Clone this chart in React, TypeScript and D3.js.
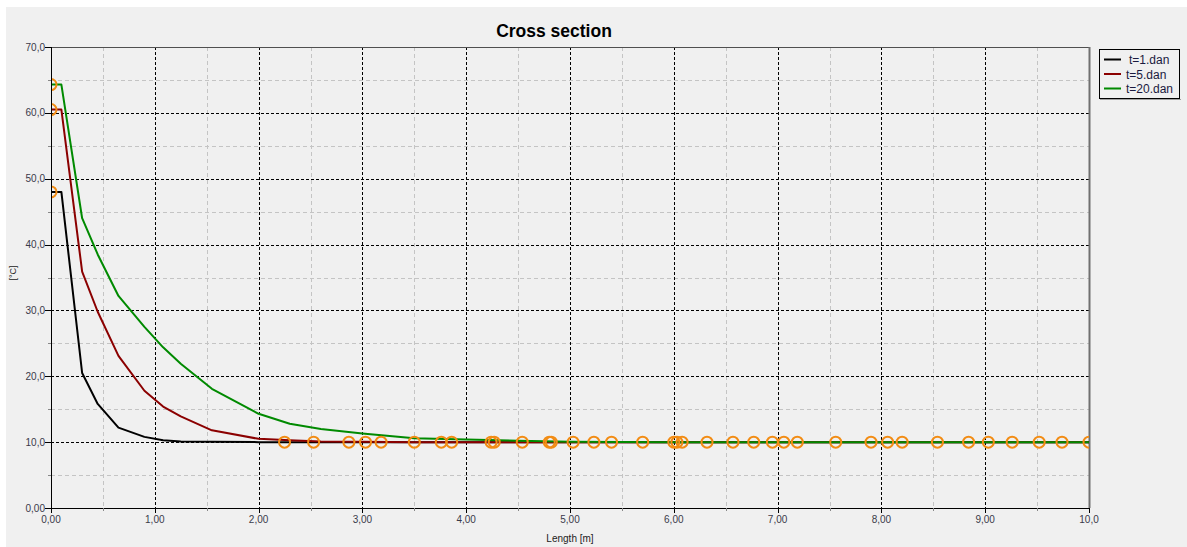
import * as d3 from "d3";

// distances along the section [m]
const depth = [0, 0.1, 0.3, 0.45, 0.65, 0.9, 1.08, 1.25, 1.55, 2.0, 2.3, 2.6, 3.0, 3.5, 4.0, 4.5, 5.0, 6.0, 7.0, 8.0, 9.0, 10.0];

const t1 = [48.0, 48.0, 20.5, 15.8, 12.2, 10.8, 10.3, 10.1, 10.05, 10.0, 10.0, 10.0, 10.0, 10.0, 10.0, 10.0, 10.0, 10.0, 10.0, 10.0, 10.0, 10.0];
const t5 = [60.5, 60.5, 35.9, 29.8, 23.1, 17.8, 15.4, 13.9, 11.8, 10.5, 10.3, 10.1, 10.05, 10.0, 10.0, 10.0, 10.0, 10.0, 10.0, 10.0, 10.0, 10.0];
const t20 = [64.3, 64.3, 44.0, 38.5, 32.2, 27.5, 24.4, 21.9, 18.1, 14.3, 12.8, 12.0, 11.3, 10.6, 10.4, 10.2, 10.05, 10.0, 10.0, 10.0, 10.0, 10.0];

const seriesNames = ["t=1.dan", "t=5.dan", "t=20.dan"];
const seriesColors = ["#000000", "#8b0000", "#008a00"];

// orange markers lying on the 10 °C line
const markerX = [2.25, 2.53, 2.87, 3.03, 3.18, 3.5, 3.76, 3.86, 4.24, 4.27, 4.54, 4.8, 4.82, 5.03, 5.23, 5.4, 5.7, 6.0, 6.03, 6.08, 6.32, 6.57, 6.77, 6.95, 7.06, 7.19, 7.56, 7.9, 8.06, 8.2, 8.54, 8.84, 9.03, 9.26, 9.52, 9.74, 10.0];
const markerT = 10.0;

const xTicks = [0, 1, 2, 3, 4, 5, 6, 7, 8, 9, 10];
const xTickLabels = ["0,00", "1,00", "2,00", "3,00", "4,00", "5,00", "6,00", "7,00", "8,00", "9,00", "10,0"];
const yTicks = [0, 10, 20, 30, 40, 50, 60, 70];
const yTickLabels = ["0,00", "10,0", "20,0", "30,0", "40,0", "50,0", "60,0", "70,0"];
const xMinor = [0.5, 1.5, 2.5, 3.5, 4.5, 5.5, 6.5, 7.5, 8.5, 9.5];
const yMinor = [5, 15, 25, 35, 45, 55, 65];

const W = 1187;
const H = 547;
const plot = { left: 51, top: 47, right: 1089, bottom: 508 };
const font = "'Liberation Sans', Arial, sans-serif";

export default function App() {
  const x = d3.scaleLinear().domain([0, 10]).range([plot.left, plot.right]);
  const y = d3.scaleLinear().domain([0, 70]).range([plot.bottom, plot.top]);
  const series = [t1, t5, t20];
  const line = d3
    .line<number>()
    .x((_, i) => x(depth[i]))
    .y((d) => y(d));

  return (
    <svg width={W} height={H} style={{ position: "fixed", left: 0, top: 0 }}>
      <rect x={0} y={0} width={W} height={H} fill="#ffffff" />
      <rect x={6} y={7} width={W - 6} height={H - 7} fill="#f0f0f0" />
      <defs>
        <clipPath id="plot-clip">
          <rect x={plot.left} y={plot.top} width={plot.right - plot.left} height={plot.bottom - plot.top} />
        </clipPath>
      </defs>

      <text x={554} y={37} textAnchor="middle" fontFamily={font} fontWeight="bold" fontSize={17.5} fill="#000">
        Cross section
      </text>

      {/* minor grid */}
      <g stroke="#c4c4c4" strokeWidth={1} strokeDasharray="4,3">
        {xMinor.map((v) => (
          <line key={"xm" + v} x1={Math.round(x(v)) + 0.5} x2={Math.round(x(v)) + 0.5} y1={plot.top} y2={plot.bottom} />
        ))}
        {yMinor.map((v) => (
          <line key={"ym" + v} x1={plot.left} x2={plot.right} y1={Math.round(y(v)) + 0.5} y2={Math.round(y(v)) + 0.5} />
        ))}
      </g>
      {/* major grid */}
      <g stroke="#000" strokeWidth={1} strokeDasharray="3,2">
        {xTicks.slice(1, -1).map((v) => (
          <line key={"xg" + v} x1={Math.round(x(v)) + 0.5} x2={Math.round(x(v)) + 0.5} y1={plot.top} y2={plot.bottom} />
        ))}
        {yTicks.slice(1, -1).map((v) => (
          <line key={"yg" + v} x1={plot.left} x2={plot.right} y1={Math.round(y(v)) + 0.5} y2={Math.round(y(v)) + 0.5} />
        ))}
      </g>

      {/* frame */}
      <line x1={plot.left} x2={plot.right} y1={plot.top + 0.5} y2={plot.top + 0.5} stroke="#505050" />
      <line x1={plot.right + 0.5} x2={plot.right + 0.5} y1={plot.top} y2={plot.bottom} stroke="#707070" strokeWidth={2} />

      {/* series */}
      <g clipPath="url(#plot-clip)" fill="none" strokeWidth={2} strokeLinejoin="round">
        {series.map((s, i) => (
          <path key={seriesNames[i]} d={line(s) ?? ""} stroke={seriesColors[i]} />
        ))}
      </g>

      {/* markers */}
      <g clipPath="url(#plot-clip)" fill="none" stroke="#f28c14" strokeWidth={2}>
        {series.map((s, i) => (
          <circle key={"s" + i} cx={x(depth[0])} cy={y(s[0])} r={5.5} />
        ))}
        {markerX.map((v, i) => (
          <circle key={"m" + i} cx={x(v)} cy={y(markerT)} r={5.5} />
        ))}
      </g>

      {/* axes */}
      <line x1={plot.left + 0.5} x2={plot.left + 0.5} y1={plot.top} y2={plot.bottom + 1} stroke="#000" />
      <line x1={plot.left} x2={plot.right + 1} y1={plot.bottom + 0.5} y2={plot.bottom + 0.5} stroke="#000" />

      <g fontFamily={font} fontSize={10} fill="#3a3a4a">
        {xTicks.map((v, i) => (
          <g key={"xt" + v}>
            <line x1={Math.round(x(v)) + 0.5} x2={Math.round(x(v)) + 0.5} y1={plot.bottom} y2={plot.bottom + 5} stroke="#000" />
            <text x={x(v)} y={plot.bottom + 15} textAnchor="middle">
              {xTickLabels[i]}
            </text>
          </g>
        ))}
        {xMinor.map((v) => (
          <line key={"xmt" + v} x1={Math.round(x(v)) + 0.5} x2={Math.round(x(v)) + 0.5} y1={plot.bottom} y2={plot.bottom + 3} stroke="#888" />
        ))}
        {yTicks.map((v, i) => (
          <g key={"yt" + v}>
            <line x1={plot.left - 6} x2={plot.left} y1={Math.round(y(v)) + 0.5} y2={Math.round(y(v)) + 0.5} stroke="#000" />
            <text x={plot.left - 6} y={y(v) + 3.5} textAnchor="end">
              {yTickLabels[i]}
            </text>
          </g>
        ))}
        {yMinor.map((v) => (
          <line key={"ymt" + v} x1={plot.left - 3} x2={plot.left} y1={Math.round(y(v)) + 0.5} y2={Math.round(y(v)) + 0.5} stroke="#888" />
        ))}
        <text x={570} y={542} textAnchor="middle" fill="#222">
          Length [m]
        </text>
        <text transform={`translate(16,${273}) rotate(-90)`} textAnchor="middle" fill="#222" fontSize={9}>
          [°C]
        </text>
      </g>

      {/* legend */}
      <g fontFamily={font} fontSize={12}>
        <rect x={1099.5} y={49.5} width={80} height={49} fill="#f0f0f0" stroke="#000" />
        <line x1={1100} x2={1181} y1={99.5} y2={99.5} stroke="#a0a0a0" />
        {seriesNames.map((n, i) => (
          <g key={n} transform={`translate(0,${59.5 + i * 14.5})`}>
            <line x1={1104} x2={1121} y1={0} y2={0} stroke={seriesColors[i]} strokeWidth={2} />
            <text x={i === 0 ? 1129 : 1126} y={4.5} fill="#1a1a40">
              {n}
            </text>
          </g>
        ))}
      </g>
    </svg>
  );
}
